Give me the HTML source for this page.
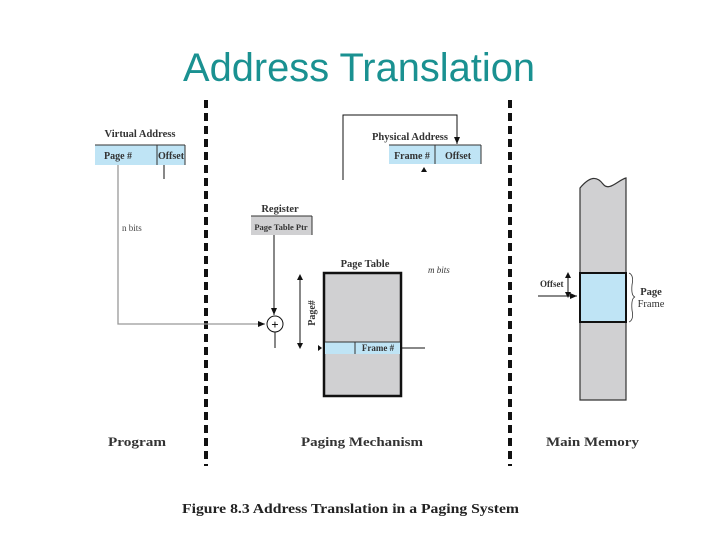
<!DOCTYPE html><html><head><style>body{margin:0;background:#fff}svg{display:block}</style></head><body>
<svg width="720" height="540" viewBox="0 0 720 540" xmlns="http://www.w3.org/2000/svg" font-family="Liberation Serif, serif">
<defs><marker id="a" markerWidth="8" markerHeight="8" refX="7" refY="4" orient="auto" markerUnits="userSpaceOnUse"><path d="M0,1 L7,4 L0,7z" fill="#111"/></marker></defs>
<text x="183" y="81" textLength="352" lengthAdjust="spacingAndGlyphs" font-family="Liberation Sans, sans-serif" font-size="40" fill="#1a9191">Address Translation</text>
<g stroke="#111" stroke-width="4" stroke-dasharray="8,5"><line x1="206" y1="100" x2="206" y2="466"/><line x1="510" y1="100" x2="510" y2="466"/></g>
<!-- virtual address -->
<text x="140" y="137" text-anchor="middle" font-size="10.5" font-weight="bold" fill="#333">Virtual Address</text>
<rect x="95" y="145" width="90" height="20" fill="#bfe4f5"/><line x1="95" y1="145" x2="185" y2="145" stroke="#333"/><line x1="157" y1="145" x2="157" y2="165" stroke="#333"/><line x1="185" y1="145" x2="185" y2="165" stroke="#333"/>
<text x="118" y="159" text-anchor="middle" font-size="10" font-weight="bold" fill="#333">Page #</text><text x="171" y="159" text-anchor="middle" font-size="10" font-weight="bold" fill="#333">Offset</text>
<line x1="164" y1="165" x2="164" y2="179" stroke="#111"/>
<path d="M118,165 V324 H265" fill="none" stroke="#999" stroke-width="1.3" marker-end="url(#a)"/>
<text x="122" y="231" font-size="9" fill="#444">n bits</text>
<!-- physical -->
<text x="410" y="140" text-anchor="middle" font-size="10.5" font-weight="bold" fill="#333">Physical Address</text>
<rect x="389" y="145" width="92" height="19" fill="#bfe4f5"/><line x1="389" y1="145" x2="481" y2="145" stroke="#333"/><line x1="435" y1="145" x2="435" y2="164" stroke="#333"/><line x1="481" y1="145" x2="481" y2="164" stroke="#333"/>
<text x="412" y="159" text-anchor="middle" font-size="10" font-weight="bold" fill="#333">Frame #</text><text x="458" y="159" text-anchor="middle" font-size="10" font-weight="bold" fill="#333">Offset</text>
<path d="M343,180 V115 H457 V144" fill="none" stroke="#111" marker-end="url(#a)"/>
<path d="M421,172 L424,167 L427,172z" fill="#111"/>
<!-- register -->
<text x="280" y="212" text-anchor="middle" font-size="10.5" font-weight="bold" fill="#333">Register</text>
<rect x="251" y="216" width="61" height="19" fill="#d0d0d2"/><line x1="251" y1="216" x2="312" y2="216" stroke="#333"/><line x1="312" y1="216" x2="312" y2="235" stroke="#333"/>
<text x="281" y="230" text-anchor="middle" font-size="8.5" font-weight="bold" fill="#333">Page Table Ptr</text>
<line x1="274" y1="235" x2="274" y2="315" stroke="#111" marker-end="url(#a)"/>
<circle cx="275" cy="324" r="8" fill="#fff" stroke="#111"/><text x="275" y="329" text-anchor="middle" font-size="13" font-weight="bold">+</text>
<line x1="275" y1="332" x2="275" y2="348" stroke="#111"/>
<!-- page table -->
<text x="365" y="267" text-anchor="middle" font-size="10.5" font-weight="bold" fill="#333">Page Table</text>
<text x="428" y="273" font-size="9" font-style="italic" fill="#333">m bits</text>
<rect x="324" y="273" width="77" height="123" fill="#d0d0d2" stroke="#111" stroke-width="2.5"/>
<rect x="325" y="342" width="75" height="12" fill="#bfe4f5"/><line x1="325" y1="342" x2="400" y2="342" stroke="#333"/><line x1="355" y1="342" x2="355" y2="354" stroke="#333"/>
<text x="378" y="351" text-anchor="middle" font-size="9" font-weight="bold" fill="#333">Frame #</text>
<line x1="401" y1="348" x2="425" y2="348" stroke="#111"/>
<path d="M318,345 L322,348 L318,351z" fill="#111"/>
<line x1="300" y1="277" x2="300" y2="346" stroke="#111"/><path d="M297,280 L300,274 L303,280z M297,343 L300,349 L303,343z" fill="#111"/>
<text transform="translate(315,313) rotate(-90)" text-anchor="middle" font-size="10" font-weight="bold" fill="#333">Page#</text>
<!-- memory -->
<path d="M580,188 C590,176 597,176 603,184 C609,192 618,180 626,178 V400 H580Z" fill="#d0d0d2" stroke="#333" stroke-width="1.2"/>
<rect x="580" y="273" width="46" height="49" fill="#bfe4f5" stroke="#111" stroke-width="2"/>
<line x1="568" y1="274" x2="568" y2="296" stroke="#111"/><path d="M565,278 L568,272 L571,278z M565,292 L568,298 L571,292z" fill="#111"/>
<line x1="538" y1="296" x2="577" y2="296" stroke="#111" marker-end="url(#a)"/>
<text x="540" y="287" font-size="9" font-weight="bold" fill="#333">Offset</text>
<path d="M629,273 Q634,275 632,285 Q631,296 635,297 Q631,298 632,310 Q634,320 629,322" fill="none" stroke="#333" stroke-width="0.8"/>
<text x="651" y="295" text-anchor="middle" font-size="10.5" font-weight="bold" fill="#333">Page</text>
<text x="651" y="307" text-anchor="middle" font-size="10.5" fill="#333">Frame</text>
<!-- bottom -->
<g font-size="13" font-weight="bold" fill="#333">
<text x="108" y="446" textLength="58" lengthAdjust="spacingAndGlyphs">Program</text>
<text x="301" y="446" textLength="122" lengthAdjust="spacingAndGlyphs">Paging Mechanism</text>
<text x="546" y="446" textLength="93" lengthAdjust="spacingAndGlyphs">Main Memory</text></g>
<text x="182" y="513" textLength="337" lengthAdjust="spacingAndGlyphs" font-size="14" font-weight="bold" fill="#222">Figure 8.3   Address Translation in a Paging System</text>
</svg></body></html>
